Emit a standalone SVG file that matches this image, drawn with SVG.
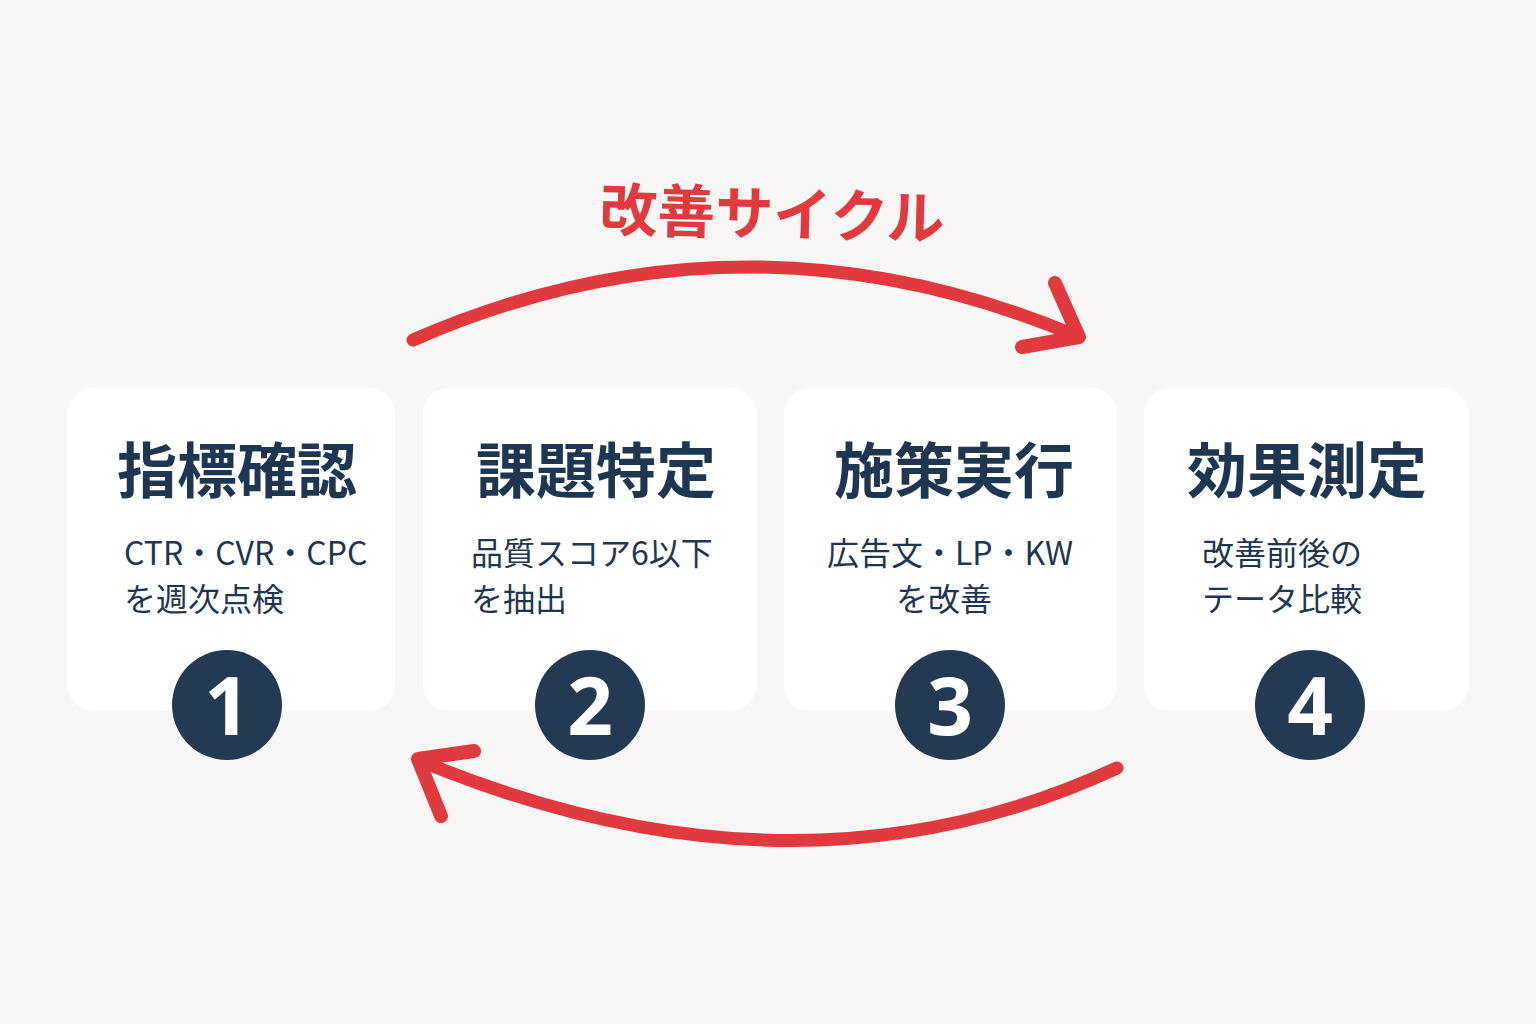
<svg xmlns="http://www.w3.org/2000/svg" width="1536" height="1024" viewBox="0 0 1536 1024">
<style>
.card{fill:#ffffff;}
.title{font-family:"Noto Sans CJK JP","Noto Sans CJK SC",sans-serif;font-weight:700;font-size:60px;fill:#1f3650;text-anchor:middle;}
.sub{font-family:"Noto Sans CJK JP","Noto Sans CJK SC",sans-serif;font-weight:400;font-size:32px;fill:#1f3650;}
.badge{fill:#243a53;}
.num{font-family:"Open Sans","Noto Sans",sans-serif;font-weight:700;font-size:80px;fill:#ffffff;text-anchor:middle;}
.arc{fill:none;stroke:#e0393e;stroke-width:13;stroke-linecap:round;stroke-linejoin:round;}
.head{fill:none;stroke:#e0393e;stroke-width:14;stroke-linecap:round;stroke-linejoin:round;}
</style>
<rect width="1536" height="1024" fill="#f8f7f5"/>
<text x="772" y="235" transform="rotate(1.5 772 212)" style="font-family:'Noto Sans CJK JP','Noto Sans CJK SC',sans-serif;font-weight:700;font-size:58px;fill:#e0393e;text-anchor:middle;">改善サイクル</text>
<g id="connectors">
<path class="arc" d="M413,340 Q740,197 1072,334"/>
<path class="head" d="M1055,283 L1079,337 L1022,347"/>
<path class="arc" d="M1117,768 Q800,915 428,764"/>
<path class="head" d="M474,751 L418,759 L441,816"/>
</g>
<g id="node1">
<rect class="card" x="68" y="388" width="327" height="323" rx="26"/>
<text class="title" x="237" y="493">指標確認</text>
<text class="sub" x="124" y="565">CTR・CVR・CPC</text>
<text class="sub" x="124" y="611">を週次点検</text>
<circle class="badge" cx="227" cy="705" r="55"/>
<text class="num" x="227" y="735">1</text>
</g>
<g id="node2">
<rect class="card" x="423" y="388" width="333" height="323" rx="26"/>
<text class="title" x="596" y="493">課題特定</text>
<text class="sub" x="471" y="565">品質スコア6以下</text>
<text class="sub" x="471" y="611">を抽出</text>
<circle class="badge" cx="590" cy="705" r="55"/>
<text class="num" x="590" y="735">2</text>
</g>
<g id="node3">
<rect class="card" x="784" y="388" width="333" height="323" rx="26"/>
<text class="title" x="954" y="493">施策実行</text>
<text class="sub" x="950" y="565" text-anchor="middle">広告文・LP・KW</text>
<text class="sub" x="944" y="611" text-anchor="middle">を改善</text>
<circle class="badge" cx="950" cy="705" r="55"/>
<text class="num" x="950" y="735">3</text>
</g>
<g id="node4">
<rect class="card" x="1144" y="388" width="324" height="323" rx="26"/>
<text class="title" x="1307" y="493">効果測定</text>
<text class="sub" x="1202" y="565">改善前後の</text>
<text class="sub" x="1202" y="611">テータ比較</text>
<circle class="badge" cx="1310" cy="705" r="55"/>
<text class="num" x="1310" y="735">4</text>
</g>
</svg>
